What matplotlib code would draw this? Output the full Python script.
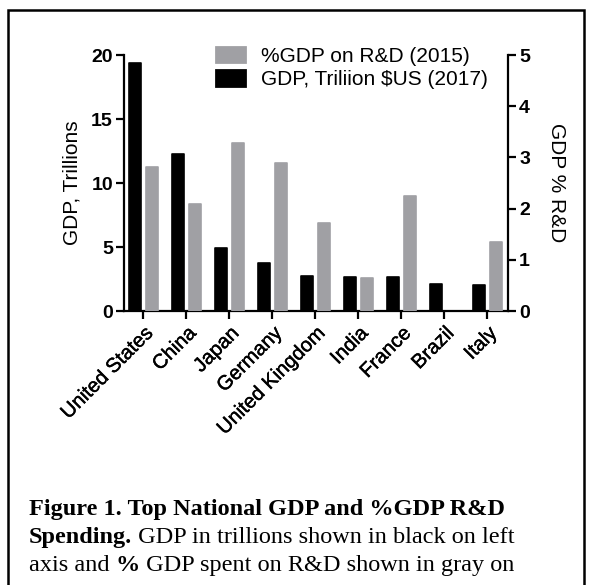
import numpy as np
import matplotlib
matplotlib.use("Agg")
import matplotlib.pyplot as plt
import matplotlib.patheffects as pe
from matplotlib.patches import Rectangle, Patch

countries = ["United States", "China", "Japan", "Germany", "United Kingdom",
             "India", "France", "Brazil", "Italy"]
gdp_trillions = [19.4, 12.3, 4.95, 3.75, 2.7, 2.65, 2.65, 2.1, 2.0]
rd_percent = [2.82, 2.09, 3.29, 2.90, 1.72, 0.65, 2.25, np.nan, 1.35]

W, H = 589, 585
GRAY = "#a0a0a4"
plt.rcParams['font.family'] = ['Liberation Sans', 'DejaVu Sans']

fig = plt.figure(figsize=(W / 100, H / 100), dpi=100)

def fx(px):
    return px / W

def fy(py):
    return 1 - py / H

ax = fig.add_axes([fx(124), fy(311), fx(508) - fx(124), fy(55) - fy(311)])
ax2 = ax.twinx()

x = np.arange(len(countries))
bw = 0.29
ax.bar(x - 0.2, gdp_trillions, bw, color="black", edgecolor="black",
       linewidth=1.2, joinstyle="round")
ax2.bar(x + 0.2, rd_percent, bw, color=GRAY, edgecolor=GRAY,
        linewidth=1.2, joinstyle="round")

ax.set_xlim(-0.45, 8.48)
ax.set_ylim(0, 20)
ax2.set_ylim(0, 5)
ax.set_yticks([0, 5, 10, 15, 20])
ax2.set_yticks([0, 1, 2, 3, 4, 5])

for a in (ax, ax2):
    a.spines["top"].set_visible(False)
    for s in a.spines.values():
        s.set_linewidth(1.6)
    a.tick_params(width=1.6, length=6, labelsize=14, pad=2)
ax.spines["right"].set_visible(False)
ax2.spines["left"].set_visible(False)
ax2.spines["bottom"].set_visible(False)

for lab in ax.get_yticklabels() + ax2.get_yticklabels():
    lab.set_fontweight("bold")

ax.set_xticks(x)
ax.set_xticklabels(countries, rotation=45, ha="right", rotation_mode="anchor",
                   fontsize=14.5)
ax.tick_params(axis="x", pad=3)
# slightly heavier than regular, like the original's medium weight
for lab in ax.get_xticklabels():
    lab.set_path_effects([pe.withStroke(linewidth=0.3, foreground="black")])

ax.set_ylabel("GDP, Trillions", fontsize=15, va="center")
ax.yaxis.set_label_coords(-0.135, 0.5)
ax2.set_ylabel("GDP % R&D", fontsize=15, rotation=-90, va="center")
ax2.yaxis.set_label_coords(1.126, 0.5)

handles = [Patch(facecolor=GRAY, edgecolor=GRAY, linewidth=2, joinstyle="round",
                 label="%GDP on R&D (2015)"),
           Patch(facecolor="black", edgecolor="black", linewidth=2, joinstyle="round",
                 label="GDP, Triliion $US (2017)")]
fig.legend(handles=handles, loc="upper left", bbox_to_anchor=(fx(216), fy(47)),
           frameon=False, fontsize=15, handlelength=1.4, handleheight=0.75,
           handletextpad=0.75, labelspacing=0.2, borderpad=0, borderaxespad=0)

# outer frame
fig.patches.append(Rectangle((fx(8), fy(600)), fx(584) - fx(8), fy(10) - fy(600),
                             transform=fig.transFigure, fill=False,
                             edgecolor="black", linewidth=1.8, clip_on=False))

# caption with mixed weights
serif = ["Liberation Serif", "DejaVu Serif"]
cap_size = 17.5
lines = [
    [("Figure 1. Top National GDP and %GDP R&D", "bold")],
    [("Spending.", "bold"), (" GDP in trillions shown in black on left", "normal")],
    [("axis and ", "normal"), ("%", "bold"), (" GDP spent on R&D shown in gray on", "normal")],
]
baselines = [515, 543, 571]
renderer = fig.canvas.get_renderer()
for parts, yb in zip(lines, baselines):
    xp = 29
    for txt, wt in parts:
        t = fig.text(fx(xp), fy(yb), txt, family=serif, fontsize=cap_size,
                     fontweight=wt, va="baseline", ha="left")
        bb = t.get_window_extent(renderer=renderer)
        xp += bb.width

fig.savefig("out.png", dpi=100)
